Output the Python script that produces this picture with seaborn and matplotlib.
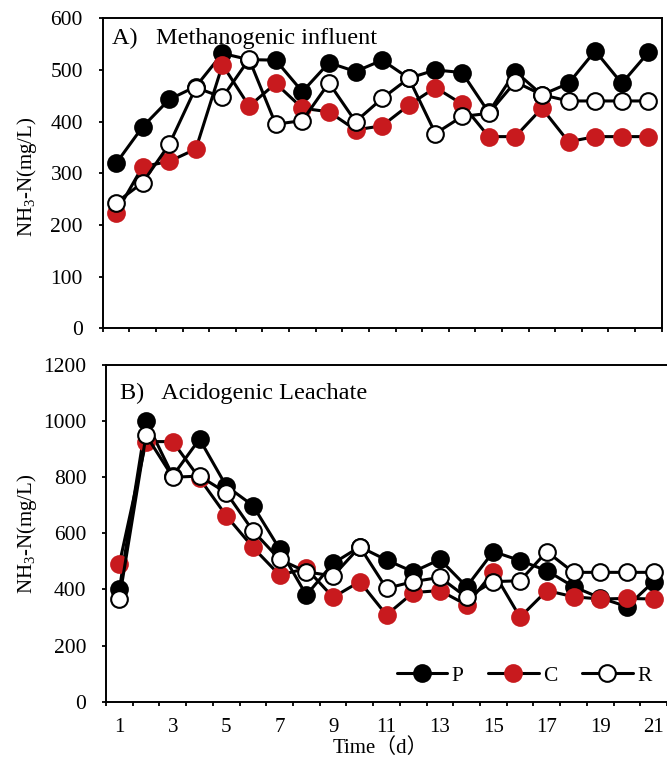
import matplotlib
matplotlib.use("Agg")
import matplotlib.pyplot as plt
import numpy as np
import pandas as pd
import seaborn as sns

sns.set_theme(style="ticks")
plt.rcParams["font.family"] = ["Liberation Serif", "Noto Sans CJK SC"]
plt.rcParams["mathtext.default"] = "regular"

# ---------------- data ----------------
days = list(range(1, 22))
day_labels = [str(d) for d in range(1, 22, 2)]

# A) Methanogenic influent
meth_P = [319, 390, 443, 468, 532, 520, 519, 458, 514, 497, 519,
          484, 500, 495, 418, 497, 452, 474, 537, 474, 534]
meth_C = [223, 313, 323, 347, 510, 430, 474, 426, 419, 384, 392,
          432, 466, 434, 371, 371, 426, 361, 371, 371, 371]
meth_R = [243, 282, 356, 466, 447, 521, 395, 402, 475, 400, 445,
          484, 377, 410, 416, 477, 452, 440, 440, 440, 440]

# B) Acidogenic leachate
acid_P = [400, 1000, 805, 936, 769, 699, 544, 380, 493, 552, 505,
          463, 507, 410, 535, 503, 467, 410, 370, 339, 428]
acid_C = [491, 927, 927, 796, 663, 550, 451, 475, 372, 428, 309,
          389, 396, 345, 463, 301, 396, 374, 366, 368, 366]
acid_R = [366, 950, 800, 804, 745, 609, 507, 463, 448, 552, 404,
          428, 443, 372, 428, 431, 535, 461, 461, 461, 461]

series_names = ["P", "C", "R"]

RED = "#C81A1E"
styles = {
    "P": dict(markerfacecolor="black", markeredgecolor="black"),
    "C": dict(markerfacecolor=RED, markeredgecolor=RED),
    "R": dict(markerfacecolor="white", markeredgecolor="black"),
}

fig = plt.figure(figsize=(6.67, 7.61), dpi=100)
W, H = 667.0, 761.0
ax1 = fig.add_axes([102.7 / W, 1 - 328.3 / H, (661.7 - 102.7) / W, (328.3 - 18.3) / H])
ax2 = fig.add_axes([106.0 / W, 1 - 701.7 / H, (667.0 - 106.0) / W, (701.7 - 365.0) / H])


def draw(ax, vals_list):
    for name, vals in zip(series_names, vals_list):
        df = pd.DataFrame({"Day": days, "NH3": vals})
        sns.lineplot(data=df, x="Day", y="NH3", ax=ax, color="black",
                     linewidth=2.2, marker="o", markersize=12,
                     markeredgewidth=1.5, label=name, legend=False,
                     **styles[name])
    ax.set_xlabel("")
    ax.set_ylabel("")
    ax.set_xlim(0.5, 21.5)
    ax.set_xticks(np.arange(0.5, 22.0, 1.0))
    ax.set_xticklabels([])
    for sp in ax.spines.values():
        sp.set_linewidth(1.4)
        sp.set_color("black")
    ax.tick_params(axis="both", which="major", direction="out", length=3.2,
                   width=1.3, color="black", labelsize=15.5, labelcolor="black")
    ax.tick_params(axis="y", pad=11)


draw(ax1, [meth_P, meth_C, meth_R])
draw(ax2, [acid_P, acid_C, acid_R])

ax1.set_ylim(0, 600)
ax1.set_yticks(range(0, 601, 100))
ax2.set_ylim(0, 1200)
ax2.set_yticks(range(0, 1201, 200))

ax2.set_xticks(range(1, 22, 2), minor=True)
ax2.set_xticklabels(day_labels, minor=True)
ax2.tick_params(axis="x", which="minor", length=0, pad=12, labelsize=15,
                labelcolor="black")
ax2.spines["right"].set_visible(False)

# panel titles
ax1.text(9.0 / 559.0, (328.3 - 44.0) / 310.0, "A)   Methanogenic influent",
         transform=ax1.transAxes, ha="left", va="baseline", fontsize=17.5,
         color="black")
ax2.text(14.0 / 561.0, (701.7 - 399.3) / 336.7, "B)   Acidogenic Leachate",
         transform=ax2.transAxes, ha="left", va="baseline", fontsize=17.5,
         color="black")

# y labels
for yc in [(18.3 + 328.3) / 2 + 4, (365.0 + 701.7) / 2]:
    fig.text(27.0 / W, 1 - yc / H, "NH$_3$-N(mg/L)", rotation=90,
             ha="center", va="center", fontsize=15, color="black")

# x label
fig.text(380.0 / W, 1 - 738.0 / H, "Time（d）", ha="center", va="top",
         fontsize=15, color="black")

# legend
ax2.legend(loc="center", bbox_to_anchor=(0.745, 0.077), ncol=3,
           frameon=False, fontsize=15.5, handlelength=2.35, handletextpad=0.2,
           columnspacing=1.15, borderpad=0, borderaxespad=0,
           labelcolor="black")

fig.savefig("out.png", dpi=100)
